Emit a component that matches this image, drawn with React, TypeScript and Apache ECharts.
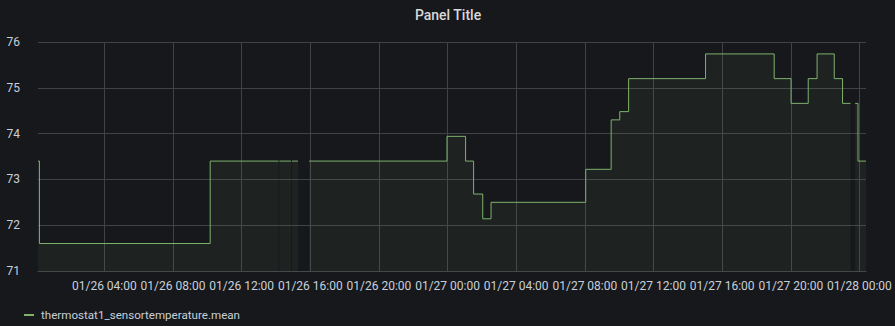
import React, { useEffect, useRef } from "react";
import * as echarts from "echarts";

// Change points: [day, hour, minute] and the value held from then on
const changeTimes: [number, number, number][] = [
  [26, 0, 8], [26, 0, 13], [26, 10, 10],
  [26, 14, 9], [26, 14, 12], [26, 14, 53], [26, 14, 56], [26, 15, 17], [26, 15, 56],
  [26, 23, 58], [27, 1, 3], [27, 1, 31], [27, 2, 3], [27, 2, 32],
  [27, 8, 3], [27, 9, 32], [27, 10, 2], [27, 10, 33], [27, 15, 2],
  [27, 19, 2], [27, 20, 1], [27, 21, 1], [27, 21, 32], [27, 22, 32],
  [27, 23, 1], [27, 23, 29], [27, 23, 45], [27, 23, 55], [28, 0, 23],
];
const changeValues: (number | null)[] = [
  73.4, 71.6, 73.4,
  73.4, 73.4, 73.4, 73.4, 73.4, 73.4,
  73.94, 73.4, 72.68, 72.14, 72.5,
  73.22, 74.3, 74.48, 75.2, 75.74,
  75.2, 74.66, 75.2, 75.74, 75.2,
  74.66, 74.66, 74.66, 73.4, 73.4,
];
// indices after which the series has a gap (null inserted)
const gapAfter = [3, 5, 7, 25];

const seriesName = "thermostat1_sensortemperature.mean";
const panelTitle = "Panel Title";
const yTicks = [71, 72, 73, 74, 75, 76];
const xRange: [number, number, number][] = [[26, 0, 8], [28, 0, 23]];
const xTicks: [number, number, number][] = [
  [26, 4, 0], [26, 8, 0], [26, 12, 0], [26, 16, 0], [26, 20, 0],
  [27, 0, 0], [27, 4, 0], [27, 8, 0], [27, 12, 0], [27, 16, 0], [27, 20, 0], [28, 0, 0],
];

const t = (d: [number, number, number]) => new Date(2021, 0, d[0], d[1], d[2]).getTime();

export default function App() {
  const ref = useRef<HTMLDivElement>(null);
  useEffect(() => {
    if (!ref.current) return;
    const chart = echarts.init(ref.current, undefined, { renderer: "svg" });
    const data: any[] = [];
    changeTimes.forEach((ct, i) => {
      data.push([t(ct), changeValues[i]]);
      if (gapAfter.includes(i)) data.push([t(ct) + 1000, null]);
    });
    const txt = "#c7d0d9";
    const gridColor = "#414246";
    chart.setOption({
      animation: false,
      backgroundColor: "#17181c",
      title: {
        text: panelTitle,
        left: 443,
        textAlign: "center",
        top: 3,
        textStyle: { color: "#d8d9da", fontSize: 14, fontWeight: 500, fontFamily: "Roboto" },
      },
      legend: {
        data: [{ name: seriesName, icon: "rect" }],
        left: 19,
        top: 304,
        itemWidth: 10,
        itemHeight: 2,
        textStyle: { color: txt, fontSize: 11.6, fontFamily: "Roboto", padding: [0, 0, 0, 2] },
      },
      grid: { left: 38, right: 29, top: 42, bottom: 55, containLabel: false },
      xAxis: {
        type: "time",
        min: t(xRange[0]),
        max: t(xRange[1]),
        minInterval: 4 * 3600 * 1000,
        maxInterval: 4 * 3600 * 1000,
        axisLine: { show: true, lineStyle: { color: "#46474b" } },
        axisTick: { show: false },
        splitLine: { show: false },
        axisLabel: {
          color: txt,
          fontSize: 12,
          fontFamily: "Roboto",
          margin: 9,
          showMinLabel: false,
          showMaxLabel: false,
          hideOverlap: false,
          formatter: (v: number) => {
            const d = new Date(v);
            const p = (n: number) => String(n).padStart(2, "0");
            return `${p(d.getMonth() + 1)}/${p(d.getDate())} ${p(d.getHours())}:${p(d.getMinutes())}`;
          },
        },
      },
      yAxis: {
        type: "value",
        min: yTicks[0],
        max: yTicks[yTicks.length - 1],
        interval: 1,
        axisLine: { show: false },
        axisTick: { show: false },
        splitLine: { lineStyle: { color: gridColor, width: 1 } },
        axisLabel: { color: txt, fontSize: 12, fontFamily: "Roboto", margin: 18 },
      },
      series: [
        {
          name: seriesName,
          type: "line",
          step: "end",
          showSymbol: false,
          connectNulls: false,
          data,
          lineStyle: { color: "#7eb26d", width: 1 },
          itemStyle: { color: "#7eb26d" },
          areaStyle: { color: "rgba(126,178,109,0.1)", origin: "start" },
          z: 3,
          markLine: {
            silent: true,
            symbol: ["none", "none"],
            label: { show: false },
            lineStyle: { color: gridColor, width: 1, type: "solid" },
            z: 1,
            data: xTicks.map((x) => ({ xAxis: t(x) })),
          },
        },
      ],
    });
    return () => chart.dispose();
  }, []);
  return <div ref={ref} style={{ width: 895, height: 326, position: "absolute", left: 0, top: 0 }} />;
}
